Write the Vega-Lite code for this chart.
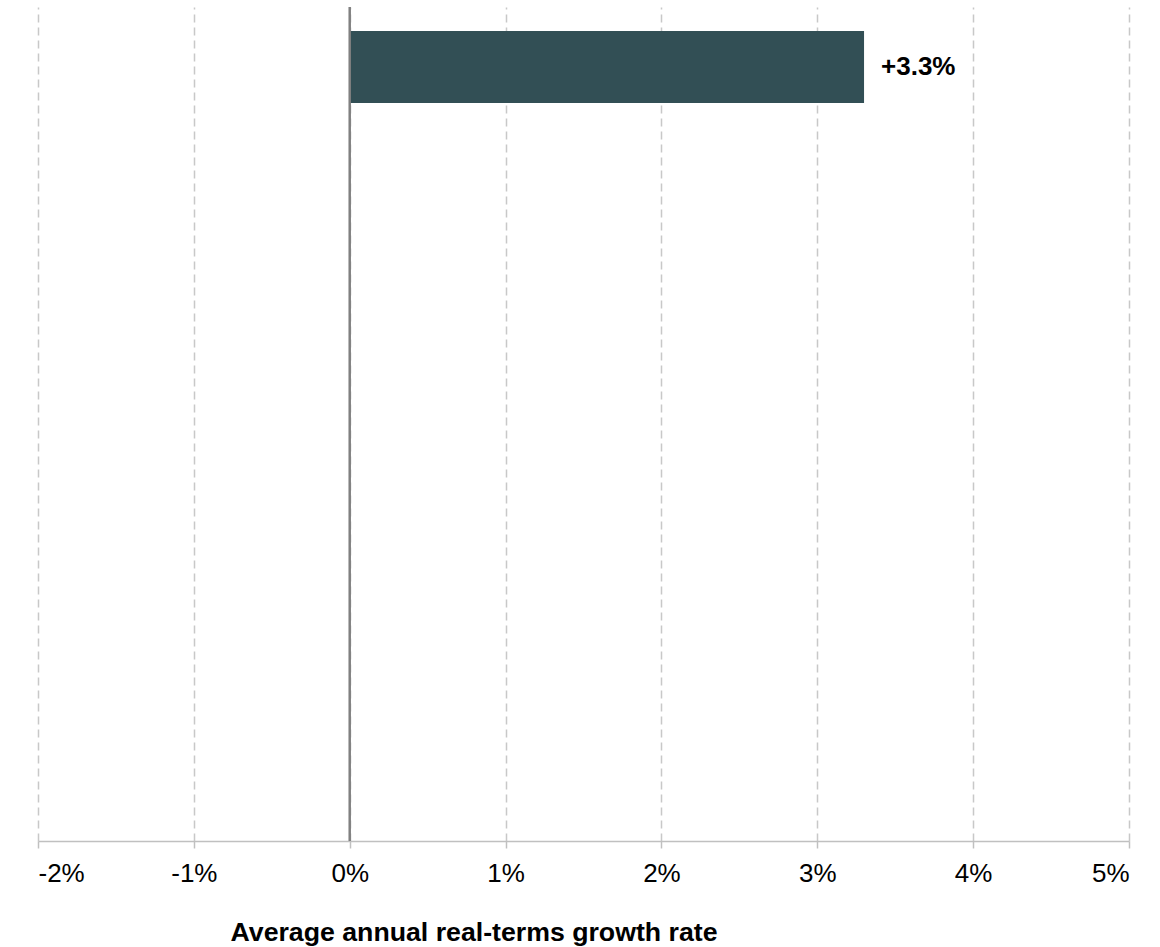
{
  "$schema": "https://vega.github.io/schema/vega-lite/v6.json",
  "width": 1091,
  "height": 834,
  "autosize": {"type": "none"},
  "padding": {"left": 38, "top": 7, "right": 31, "bottom": 106},
  "background": "white",
  "config": {
    "view": {"stroke": null},
    "font": "Liberation Sans"
  },
  "data": {
    "values": [
      {"rank": 1, "growth": 0.033, "label": "+3.3%"}
    ]
  },
  "layer": [
    {
      "mark": {"type": "bar", "color": "#324f55"},
      "encoding": {
        "y": {
          "field": "rank",
          "type": "ordinal",
          "scale": {"domain": [1, 2, 3, 4, 5, 6, 7, 8, 9], "paddingInner": 0.1933, "paddingOuter": 0.2689},
          "axis": null
        },
        "x": {
          "field": "growth",
          "type": "quantitative",
          "scale": {"domain": [-0.02, 0.05], "nice": false, "zero": false},
          "axis": {
            "values": [-0.02, -0.01, 0, 0.01, 0.02, 0.03, 0.04, 0.05],
            "format": ".0%",
            "labelExpr": "replace(datum.label, '\u2212', '-')",
            "grid": true,
            "gridDash": [8, 5],
            "gridColor": "#c8c8c8",
            "gridWidth": 1.5,
            "domainColor": "#c0c0c0",
            "domainWidth": 1.5,
            "tickColor": "#c0c0c0",
            "tickWidth": 1.5,
            "tickSize": 7,
            "labelFontSize": 26,
            "labelFont": "Liberation Sans",
            "labelColor": "#000000",
            "labelPadding": 12,
            "title": "Average annual real-terms growth rate",
            "titleFont": "Liberation Sans",
            "titleFontSize": 26.7,
            "titleFontWeight": "bold",
            "titleColor": "#000000",
            "titleX": 435.5,
            "titleY": 99.5,
            "titleAlign": "center",
            "titleAnchor": "start",
            "titleBaseline": "alphabetic"
          }
        }
      }
    },
    {
      "mark": {
        "type": "text",
        "align": "left",
        "baseline": "middle",
        "dx": 17,
        "fontSize": 26,
        "fontWeight": "bold",
        "font": "Liberation Sans",
        "color": "#000000"
      },
      "encoding": {
        "y": {"field": "rank", "type": "ordinal"},
        "x": {"field": "growth", "type": "quantitative"},
        "text": {"field": "label"}
      }
    },
    {
      "mark": {"type": "rule", "color": "#808080", "strokeWidth": 2.5},
      "encoding": {
        "x": {"datum": 0, "type": "quantitative"}
      }
    }
  ]
}
